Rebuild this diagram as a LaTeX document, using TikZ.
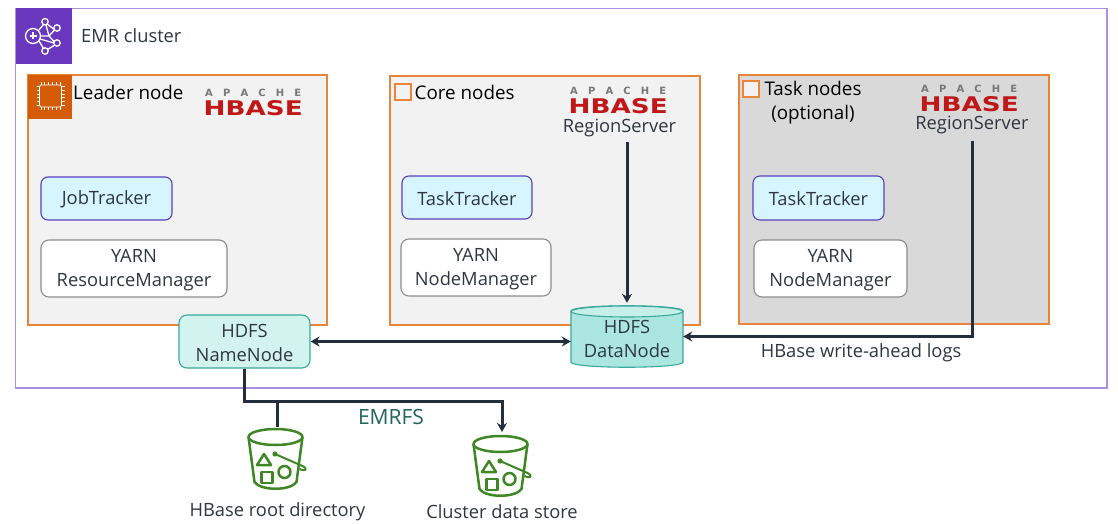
\documentclass[tikz,border=0pt]{standalone}
\usepackage{fontspec}
\usepackage{graphicx}
\setmainfont{Open Sans}
\newfontfamily\logofont{DejaVu Sans}
\usetikzlibrary{arrows.meta}
\definecolor{inkc}{HTML}{232F3E}
\definecolor{textc}{HTML}{2F3640}
\definecolor{emrc}{HTML}{6A38BF}
\definecolor{frame}{HTML}{A98FE6}
\definecolor{orangec}{HTML}{E9853B}
\definecolor{chipc}{HTML}{D45B07}
\definecolor{panelc}{HTML}{F2F2F2}
\definecolor{paneld}{HTML}{D9D9D9}
\definecolor{trackf}{HTML}{D6F5FF}
\definecolor{trackb}{HTML}{5A3FBF}
\definecolor{tealb}{HTML}{3AA99B}
\definecolor{tealn}{HTML}{D3F3EE}
\definecolor{teald}{HTML}{ABE7E0}
\definecolor{greenc}{HTML}{3F8624}
\definecolor{hred}{HTML}{C01818}
\definecolor{hgrey}{HTML}{77797C}
\definecolor{emrfsc}{HTML}{1F665C}
\newcommand{\lowertwo}{\rule{0pt}{17pt}}
\newcommand{\lowerone}{\rule{0pt}{16pt}}
\tikzset{
  x=1pt,y=-1pt,
  panel/.style={draw=orangec,line width=1.5pt,outer sep=0pt},
  txt/.style={font=\fontsize{18.3}{24}\selectfont,text=textc,align=center,inner sep=0pt},
  head/.style={font=\fontsize{18.8}{24}\selectfont,text=black,align=center,inner sep=0pt},
  tracker/.style={draw=trackb,fill=trackf,line width=1.1pt,rounded corners=7pt,txt,inner sep=0pt},
  yarnbox/.style={draw=black!45,fill=white,line width=1.1pt,rounded corners=8pt,txt,inner sep=0pt},
  conn/.style={draw=inkc,line width=3pt},
  tip/.style={-{Stealth[length=9pt,width=10pt]}},
  tips/.style={{Stealth[length=9pt,width=10pt]}-{Stealth[length=9pt,width=10pt]}},
  bucketline/.style={draw=greenc,line width=2.5pt,line join=round},
  hbaselogo/.pic={
    \node[inner sep=0pt,anchor=north west,text=hgrey,font=\logofont\bfseries\fontsize{10}{10}\selectfont] at (0,-1.5)
      {\makebox[96pt][s]{A\hfil P\hfil A\hfil C\hfil H\hfil E}};
    \node[inner sep=0pt,anchor=north west,text=hred] at (-1.5,10)
      {\resizebox{99pt}{15pt}{\logofont\bfseries HBASE}};
  },
  bucket/.pic={
    \draw[bucketline] (0,8) ellipse[x radius=27,y radius=8];
    \draw[bucketline] (-27,8) -- (-21,53) .. controls (-15,62) and (15,62) .. (21,53) -- (27,8);
    \draw[bucketline] (-11.5,25) -- (-4.5,36) -- (-18.5,36) -- cycle;
    \draw[bucketline] (-14,43) rectangle (-3,54);
    \draw[bucketline] (9,43) circle[radius=6];
    \fill[greenc] (-0.5,25) circle[radius=2.6];
    \draw[bucketline,line width=2pt] (-0.5,25) -- (27,37) .. controls (33,40) and (30,43) .. (24,40);
  }
}
\begin{document}
\begin{tikzpicture}
\useasboundingbox (0,0) rectangle (1118,524);
\fill[white] (0,0) rectangle (1118,524);
% cluster frame
\draw[draw=frame,line width=1.5pt] (15.5,8.5) rectangle (1107,388);
\fill[emrc] (16,8) rectangle (71.5,64);
\begin{scope}[draw=white,line width=1.3pt]
  \draw (33,36) circle[radius=7.5];
  \draw (29.5,36) -- (36.5,36) (33,32.5) -- (33,39.5);
  \foreach \p in {(45,21.7),(57,28),(57,43),(45,51)} \draw \p circle[radius=3.2];
  \draw (39,30) -- (43.5,24.5) (47,24) -- (54.5,29.5) (46,25) -- (49,36) -- (54.5,42)
        (40.5,36) -- (49,36) -- (54.5,30) (39,41) -- (43.5,48.5) (40,39) -- (54,43) (47.5,49.5) -- (55,45);
\end{scope}
\node[txt,anchor=west] (emr) at (81,36) {EMR cluster};
% panels
\node[panel,fill=panelc,minimum width=299pt,minimum height=250pt,anchor=north west,inner sep=0pt] (leader) at (28,75) {};
\node[panel,fill=panelc,minimum width=310pt,minimum height=249pt,anchor=north west,inner sep=0pt] (core) at (390,76) {};
\node[panel,fill=paneld,minimum width=310pt,minimum height=249pt,anchor=north west,inner sep=0pt] (task) at (739,75) {};
% leader chip icon
\fill[chipc] (28,75) rectangle (72,119);
\begin{scope}[draw=white,line width=0.9pt]
  \draw[rounded corners=1.5pt] (39.5,85) rectangle (61.5,107);
  \foreach \t in {0,...,5} {
    \draw (41+\t*3.8,82) -- (41+\t*3.8,85) (41+\t*3.8,107) -- (41+\t*3.8,110);
    \draw (36.5,86.500+\t*3.8) -- (39.5,86.500+\t*3.8) (61.5,86.500+\t*3.8) -- (64.5,86.500+\t*3.8);
  }
\end{scope}
\node[panel,line width=1.3pt,minimum size=16pt,inner sep=0pt,anchor=north west] (coremark) at (395,84) {};
\node[panel,fill=panelc,line width=1.3pt,minimum size=16pt,inner sep=0pt,anchor=north west] (taskmark) at (743,81) {};
\node[head,anchor=west] (leadert) at (73,92) {Leader node};
\node[head,anchor=west] (coret) at (414.500,92) {Core nodes};
\node[head] (taskt) at (813,103) {Task nodes\\(optional)};
% logos
\pic at (205,90) {hbaselogo};
\pic at (570,88) {hbaselogo};
\pic at (921,86) {hbaselogo};
\node[txt] (rs1) at (619.5,128) {RegionServer};
\node[txt] (rs2) at (972,125) {RegionServer};
% inner boxes
\node[tracker,minimum width=131pt,minimum height=43pt] (jt) at (106.5,198.5) {\lowerone JobTracker};
\node[yarnbox,minimum width=186pt,minimum height=57pt] (rm) at (134,268.5) {\lowertwo YARN\\ResourceManager};
\node[tracker,minimum width=130pt,minimum height=43pt] (tt1) at (467,197.5) {\lowerone TaskTracker};
\node[yarnbox,minimum width=150pt,minimum height=57pt] (nm1) at (476,267.5) {\lowertwo YARN\\NodeManager};
\node[tracker,minimum width=131pt,minimum height=44pt] (tt2) at (818.5,198) {\lowerone TaskTracker};
\node[yarnbox,minimum width=153pt,minimum height=57pt] (nm2) at (830.5,268.5) {\lowertwo YARN\\NodeManager};
\node[draw=tealb,fill=tealn,line width=1.1pt,rounded corners=8pt,txt,minimum width=131pt,minimum height=53pt] (nn) at (244.5,341.500) {\lowertwo HDFS\\NameNode};
% data node cylinder
\draw[draw=tealb,fill=teald,line width=1.1pt] (571,311) -- (571,362) .. controls (571,369) and (683,369) .. (683,362) -- (683,311)
   .. controls (683,304) and (571,304) .. (571,311) -- cycle;
\draw[draw=tealb,fill=tealn!70!teald,line width=1.1pt] (627,311.500) ellipse[x radius=56,y radius=5.5];
\node[inner sep=0pt,minimum width=112pt,minimum height=61pt,
  label={[txt,yshift=-2.5pt]center:HDFS\\DataNode}] (dn) at (627,336.500) {};
% connectors
\draw[conn,tips] (nn.east) -- (dn.west |- nn.east);
\draw[conn,tip,shorten >=3pt] (dn.north |- rs1.south) ++(0,5) -- (dn.north);
\draw[conn,tip] (rs2.south) ++(0,7) |- (dn.east);
% buckets
\pic at (275.5,429) {bucket};
\pic at (500.5,436) {bucket};
\coordinate (b1) at (277,427);
\coordinate (b2) at (502,432);
\draw[conn,tip] (nn.south) |- (b2 |- 0,401) -- (b2);
\draw[conn] (b1 |- 0,401) -- (b1);
\node[font=\fontsize{21}{24}\selectfont,text=emrfsc,inner sep=0pt] (emrfs) at (391,417) {EMRFS};
\node[txt] (logs) at (861,353) {HBase write-ahead logs};
\node[txt] (rootl) at (277.500,512) {HBase root directory};
\node[txt] (storel) at (502,512) {Cluster data store};
\end{tikzpicture}
\end{document}
